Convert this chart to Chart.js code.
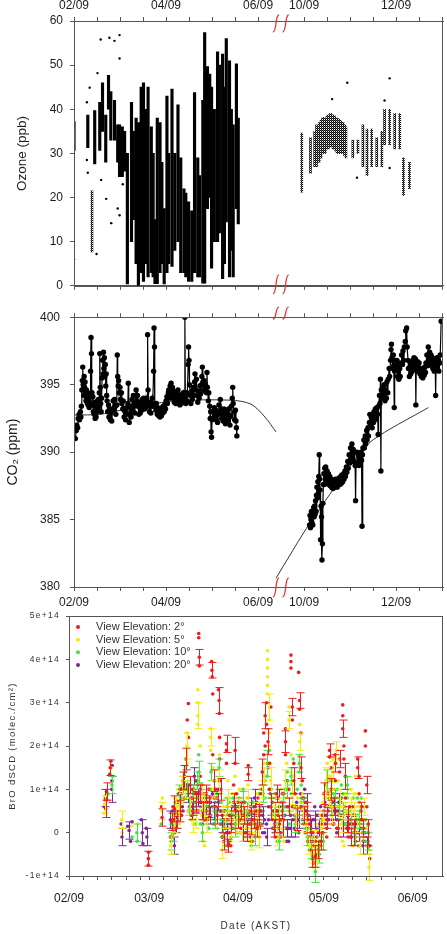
<!DOCTYPE html>
<html>
<head>
<meta charset="utf-8">
<script src="https://cdn.jsdelivr.net/npm/chart.js@4.4.1/dist/chart.umd.min.js"></script>
<style>
  body { margin: 0; background: #fff; width: 447px; height: 934px; position: relative; overflow: hidden; }
  canvas { position: absolute; left: 0; }
</style>
</head>
<body>
<canvas id="ozone" width="447" height="300" style="top:0"></canvas>
<canvas id="co2" width="447" height="312" style="top:300px"></canvas>
<canvas id="bro" width="447" height="329" style="top:605px"></canvas>
<script>
// dates in decimal months of 2009 (2.0 = 1 Feb, 10.0 = 1 Oct); Jul-Sep is cut out of the axis
const dateTicks = [2, 4, 6, 10, 12];
const dateTickLabels = ['02/09', '04/09', '06/09', '10/09', '12/09'];

// ozone (ppb): vertical runs of 1-min data [month, low, high]
const ozoneSpring = [
  [2.00, 30.7, 37.2], [2.30, 31.3, 38.7], [2.45, 27.6, 39.7], [2.56, 30.7, 41.6], [2.62, 35, 46],
  [2.69, 28, 38.7], [2.75, 40, 47.7], [2.80, 33, 44], [2.88, 33, 42], [2.95, 28, 36.5],
  [2.99, 24.7, 36.5], [3.05, 24.7, 36], [3.10, 26, 35], [3.16, 0.4, 30], [3.25, 10, 41.6],
  [3.29, 15, 35], [3.35, 5, 38], [3.40, 0, 37], [3.46, 3, 45], [3.51, 1, 46],
  [3.57, 5, 40], [3.61, 2, 45], [3.68, 3, 36], [3.72, 2, 30], [3.76, 0.5, 15],
  [3.81, 0.5, 38], [3.87, 3, 37], [3.91, 5, 28], [3.96, 0.4, 17.5], [4.02, 3, 43],
  [4.06, 5, 30], [4.13, 4.4, 44.6], [4.19, 8, 30], [4.26, 10, 41], [4.32, 3, 29],
  [4.39, 3, 22], [4.43, 2, 21], [4.49, 1, 19], [4.56, 1, 17], [4.62, 3, 43.8],
  [4.69, 2, 29], [4.73, 2, 25], [4.80, 0.6, 42], [4.84, 0.6, 57.4], [4.90, 17.5, 49.7],
  [4.95, 20, 48], [4.99, 4, 45], [5.05, 10, 40], [5.12, 10, 53], [5.16, 12, 50],
  [5.23, 1.6, 52.5], [5.27, 5, 45], [5.31, 14.5, 56], [5.38, 2, 51], [5.42, 8, 40],
  [5.46, 2, 36.5], [5.53, 17.5, 50.3], [5.57, 14, 38]
];
const ozoneSparse = [
  [2.39, 7.7, 21.5],
  [9.95, 21.2, 34.6], [10.14, 25.5, 33.5], [10.23, 27, 35], [10.27, 27, 36.5], [10.30, 28, 36], [10.33, 28, 37],
  [10.37, 29, 37.5], [10.40, 30, 38], [10.43, 30, 38.2], [10.46, 30, 38], [10.50, 31, 38.5], [10.53, 31, 38.7],
  [10.56, 31.5, 39], [10.59, 31.5, 39], [10.63, 31, 38.7], [10.66, 31, 38.5], [10.69, 30.5, 38.2], [10.72, 30, 38],
  [10.75, 30, 37.8], [10.78, 30, 37.5], [10.81, 30, 37.2], [10.85, 30, 37], [10.88, 29.5, 36.5], [10.91, 29, 36],
  [11.06, 29, 33], [11.17, 30, 33], [11.28, 27, 36.5], [11.37, 25, 35.5], [11.47, 27, 35.5], [11.58, 27, 33.5],
  [11.69, 27, 35], [11.75, 32, 40], [11.86, 32, 40], [11.97, 31, 39], [12.08, 31, 39],
  [12.16, 20.5, 29], [12.29, 22, 28]
];
const ozoneStray = [
  [2.00, 6.0], [2.28, 41.6], [2.28, 28.5], [2.30, 25.6], [2.34, 44.9], [2.49, 7.2], [2.51, 48.2],
  [2.58, 55.8], [2.59, 24.0], [2.70, 19.7], [2.77, 56.2], [2.81, 14.2], [2.88, 55.5], [2.95, 17.5],
  [2.99, 56.8], [2.99, 51.5], [2.99, 16.0], [3.06, 23.0],
  [10.61, 42.3], [10.94, 46.0], [11.15, 24.5], [11.75, 42.0], [11.86, 47.0], [11.86, 26.7]
];

// CO2 (ppm) [month, value]
const co2Spring = [
  [2.03, 391.0], [2.05, 391.6], [2.06, 392.0], [2.08, 391.8], [2.09, 392.5], [2.11, 392.8], [2.12, 392.4],
  [2.14, 393.0], [2.15, 392.6], [2.16, 393.4], [2.17, 394.6], [2.18, 395.3], [2.19, 396.3], [2.20, 395.0], [2.21, 394.2],
  [2.22, 395.6], [2.23, 394.8], [2.24, 395.2], [2.25, 394.4], [2.26, 393.8], [2.27, 394.6], [2.28, 394.0], [2.29, 393.6],
  [2.30, 394.4], [2.31, 393.5], [2.32, 394.1], [2.33, 393.3], [2.34, 394.2], [2.35, 393.6], [2.36, 396.0], [2.37, 398.5],
  [2.38, 397.3], [2.39, 394.4], [2.40, 393.5], [2.41, 394.1], [2.42, 393.0], [2.43, 393.7], [2.44, 392.8], [2.45, 393.4],
  [2.46, 392.5], [2.47, 393.2], [2.48, 392.6], [2.49, 393.5], [2.50, 393.0], [2.51, 393.8], [2.52, 393.2], [2.53, 393.9],
  [2.54, 393.4], [2.55, 394.4], [2.56, 397.3], [2.57, 394.8], [2.58, 393.6], [2.59, 393.0], [2.60, 394.0], [2.61, 395.5],
  [2.62, 396.8], [2.63, 395.8], [2.64, 397.4], [2.65, 396.2], [2.66, 397.0], [2.67, 395.6], [2.68, 396.5], [2.69, 394.9],
  [2.70, 395.8], [2.71, 394.2], [2.72, 393.8], [2.73, 393.0], [2.75, 393.5], [2.76, 392.6], [2.78, 393.2], [2.79, 392.4],
  [2.81, 393.0], [2.82, 392.3], [2.84, 393.1], [2.85, 393.8], [2.87, 393.3], [2.88, 393.9], [2.90, 393.4], [2.91, 392.8],
  [2.93, 393.5], [2.94, 397.2], [2.95, 395.6], [2.96, 394.9], [2.97, 395.3], [2.98, 394.4], [3.00, 394.8], [3.01, 393.9],
  [3.03, 394.4], [3.04, 393.6], [3.06, 393.2], [3.07, 393.8], [3.09, 392.6], [3.11, 393.0], [3.12, 392.4], [3.14, 393.3],
  [3.15, 392.8], [3.17, 393.6], [3.18, 395.1], [3.19, 393.4], [3.20, 392.2], [3.21, 392.8], [3.23, 393.4], [3.24, 392.6],
  [3.26, 393.9], [3.27, 393.2], [3.29, 394.2], [3.30, 393.4], [3.32, 392.9], [3.33, 393.6], [3.35, 394.6], [3.36, 393.8],
  [3.38, 394.2], [3.39, 393.4], [3.41, 392.8], [3.42, 393.4], [3.44, 392.9], [3.45, 393.7], [3.47, 393.1], [3.48, 393.9],
  [3.50, 393.4], [3.51, 394.0], [3.53, 393.2], [3.54, 393.8], [3.56, 393.3], [3.57, 394.0], [3.59, 393.6], [3.60, 398.7],
  [3.61, 394.6], [3.62, 393.5], [3.64, 393.0], [3.65, 393.7], [3.67, 392.9], [3.68, 393.6], [3.70, 394.0], [3.71, 393.4],
  [3.73, 396.0], [3.74, 399.2], [3.75, 397.8], [3.76, 393.6], [3.78, 393.1], [3.79, 393.6], [3.81, 392.8], [3.82, 393.3],
  [3.84, 392.7], [3.85, 393.1], [3.87, 392.6], [3.88, 393.0], [3.90, 392.7], [3.91, 393.3], [3.93, 392.9], [3.94, 393.4],
  [3.96, 393.0], [3.97, 393.5], [3.99, 393.2], [4.00, 393.8], [4.02, 394.1], [4.03, 393.6], [4.05, 394.4], [4.06, 394.6],
  [4.08, 394.0], [4.09, 394.9], [4.11, 395.1], [4.12, 394.3], [4.14, 394.8], [4.15, 394.0], [4.17, 394.5], [4.18, 393.7],
  [4.20, 394.3], [4.21, 393.6], [4.23, 394.4], [4.24, 393.9], [4.26, 394.6], [4.27, 393.8], [4.29, 394.2], [4.30, 393.5],
  [4.32, 394.0], [4.33, 393.6], [4.35, 394.3], [4.36, 393.8], [4.38, 394.4], [4.40, 394.0], [4.41, 400.0], [4.42, 394.2],
  [4.43, 393.6], [4.45, 394.4], [4.46, 393.8], [4.48, 396.5], [4.49, 397.8], [4.50, 396.8], [4.51, 395.0], [4.53, 394.2],
  [4.54, 393.6], [4.56, 394.5], [4.57, 393.9], [4.59, 394.8], [4.60, 394.2], [4.62, 395.2], [4.63, 395.8], [4.65, 394.6],
  [4.66, 395.4], [4.68, 394.2], [4.69, 393.7], [4.71, 394.5], [4.72, 394.0], [4.74, 394.9], [4.75, 394.3], [4.77, 395.0],
  [4.78, 395.6], [4.79, 396.3], [4.80, 395.2], [4.82, 394.6], [4.83, 395.3], [4.85, 394.5], [4.86, 395.0], [4.88, 394.4],
  [4.89, 395.9], [4.90, 394.8], [4.92, 393.8], [4.93, 394.4], [4.95, 393.4], [4.96, 392.5], [4.97, 393.0], [4.98, 391.5],
  [4.99, 391.1], [5.00, 392.4], [5.02, 393.0], [5.03, 392.5], [5.05, 393.3], [5.06, 392.7], [5.08, 393.1], [5.09, 392.4],
  [5.11, 393.0], [5.12, 392.2], [5.14, 392.8], [5.15, 393.5], [5.17, 392.9], [5.18, 393.9], [5.20, 393.2], [5.21, 392.5],
  [5.23, 393.0], [5.24, 392.3], [5.26, 393.2], [5.27, 392.6], [5.29, 392.1], [5.30, 392.8], [5.32, 392.2], [5.33, 392.9],
  [5.35, 392.3], [5.36, 393.2], [5.38, 392.6], [5.39, 392.0], [5.41, 392.7], [5.42, 393.4], [5.44, 394.0], [5.45, 394.8],
  [5.46, 393.6], [5.48, 393.0], [5.49, 392.4], [5.51, 393.1], [5.52, 392.3], [5.53, 391.8], [5.54, 391.2]
];
const co2Autumn = [
  [10.12, 384.6], [10.13, 385.3], [10.14, 384.4], [10.15, 385.0], [10.16, 385.6], [10.17, 384.8], [10.18, 385.4],
  [10.19, 384.6], [10.20, 385.2], [10.21, 385.9], [10.22, 385.2], [10.23, 386.0], [10.24, 385.4], [10.25, 386.4],
  [10.26, 385.6], [10.27, 386.8], [10.28, 387.4], [10.29, 386.6], [10.30, 387.8], [10.31, 386.9], [10.32, 388.2],
  [10.33, 389.8], [10.34, 388.0], [10.35, 387.2], [10.36, 383.5], [10.37, 386.0], [10.38, 385.2], [10.39, 382.0],
  [10.40, 383.2], [10.41, 386.2], [10.42, 387.6], [10.43, 388.4], [10.44, 387.6], [10.45, 388.8], [10.46, 388.0],
  [10.47, 388.9], [10.48, 388.2], [10.50, 388.6], [10.51, 387.8], [10.53, 388.4], [10.54, 387.6], [10.56, 388.2],
  [10.57, 387.5], [10.59, 388.0], [10.60, 387.4], [10.62, 387.9], [10.63, 387.3], [10.65, 387.8], [10.66, 387.4],
  [10.68, 388.0], [10.69, 387.5], [10.71, 387.9], [10.72, 387.4], [10.74, 388.0], [10.75, 387.6], [10.77, 388.1],
  [10.78, 387.6], [10.80, 388.2], [10.81, 387.7], [10.83, 388.3], [10.84, 387.8], [10.86, 388.4], [10.87, 388.0],
  [10.89, 388.6], [10.90, 388.2], [10.92, 388.9], [10.93, 388.5], [10.95, 389.3], [10.96, 388.8], [10.98, 389.8],
  [10.99, 389.2], [11.01, 390.3], [11.02, 389.5], [11.04, 390.6], [11.05, 389.8], [11.07, 390.2], [11.08, 389.3],
  [11.10, 390.0], [11.11, 389.0], [11.12, 386.4], [11.13, 389.2], [11.15, 390.0], [11.16, 389.2], [11.18, 389.8],
  [11.19, 389.0], [11.21, 389.6], [11.22, 389.2], [11.24, 390.0], [11.25, 389.4], [11.26, 384.5], [11.27, 389.8],
  [11.28, 390.3], [11.30, 390.9], [11.31, 390.3], [11.33, 391.2], [11.34, 390.6], [11.36, 391.6], [11.37, 390.9],
  [11.39, 391.8], [11.40, 391.2], [11.42, 392.2], [11.43, 392.8], [11.45, 392.0], [11.46, 392.6], [11.48, 391.8],
  [11.49, 392.7], [11.51, 392.2], [11.52, 393.0], [11.54, 392.4], [11.55, 393.2], [11.57, 392.5], [11.58, 393.3],
  [11.60, 392.8], [11.61, 391.3], [11.62, 393.4], [11.64, 394.2], [11.65, 393.6], [11.66, 395.4], [11.67, 388.6],
  [11.68, 394.6], [11.70, 394.0], [11.71, 394.8], [11.73, 394.2], [11.74, 395.0], [11.76, 393.8], [11.77, 394.6],
  [11.79, 394.0], [11.80, 395.2], [11.82, 394.4], [11.83, 395.4], [11.85, 396.2], [11.86, 395.6], [11.88, 396.8],
  [11.89, 397.6], [11.90, 398.0], [11.91, 397.0], [11.93, 396.2], [11.94, 397.2], [11.95, 396.4], [11.96, 393.3],
  [11.97, 396.0], [11.99, 396.8], [12.00, 396.2], [12.02, 396.8], [12.03, 395.6], [12.05, 396.5], [12.06, 395.4],
  [12.08, 396.2], [12.09, 395.6], [12.11, 396.6], [12.12, 397.2], [12.14, 396.5], [12.15, 397.5], [12.17, 396.8],
  [12.18, 397.8], [12.20, 398.2], [12.21, 399.0], [12.23, 399.2], [12.24, 397.8], [12.26, 396.8], [12.27, 396.2],
  [12.29, 395.6], [12.30, 396.3], [12.32, 395.8], [12.33, 396.6], [12.35, 396.0], [12.36, 396.8], [12.38, 396.2],
  [12.39, 397.0], [12.41, 396.4], [12.42, 396.9], [12.43, 393.5], [12.44, 396.6], [12.46, 396.0], [12.47, 396.7],
  [12.49, 396.1], [12.50, 396.6], [12.52, 395.8], [12.53, 396.2], [12.55, 395.6], [12.56, 396.0], [12.58, 395.5],
  [12.59, 396.1], [12.61, 395.7], [12.62, 396.3], [12.64, 395.9], [12.65, 396.6], [12.67, 397.2], [12.68, 396.4],
  [12.70, 397.8], [12.71, 396.9], [12.73, 397.4], [12.74, 396.6], [12.76, 397.2], [12.77, 396.4], [12.79, 397.0],
  [12.80, 396.2], [12.82, 396.8], [12.83, 396.0], [12.85, 396.6], [12.86, 394.2], [12.87, 396.4], [12.89, 397.0],
  [12.90, 396.2], [12.92, 396.8], [12.93, 396.0], [12.95, 396.6], [12.96, 397.2], [12.98, 399.7]
];
const co2TrendSpring = [[2.02, 392.75], [2.56, 392.8], [3.0, 393.1], [3.6, 393.5], [4.2, 393.8], [5.4, 393.85], [5.85, 393.55], [6.15, 392.6], [6.39, 391.5]];
const co2TrendAutumn = [[9.39, 380.65], [10.12, 384.7], [11.41, 390.65], [12.70, 393.3]];

// BrO dSCD in 1e14 molec/cm2: [days after 1 Feb 2009, value, error bar half-height]
const broMonthStarts = [0, 28, 59, 89, 120];
const broMonthLabels = ['02/09', '03/09', '04/09', '05/09', '06/09'];
const bro2 = [
  [12.8,0.55,0.2],[12.9,0.75],[13.1,0.95,0.2],[14.2,1.35],[14.4,1.5,0.18],[14.6,1.65],
  [27.7,-0.6,0.17],[27.8,-0.45],[27.7,-0.75],[32.3,0.6],[32.5,0.35,0.2],
  [35.8,-0.1],[35.8,0.25,0.2],[36.3,0.3],[36.3,0.6],[36.8,0.55,0.3],[36.8,0.0],[37.3,0.1],[37.3,0.4],[37.8,0.7],[37.8,0.3,0.2],
  [38.3,0.4],[38.3,0.9],[38.8,0.5,0.25],[38.8,1.0],[39.3,0.9],[39.3,0.4],[39.8,0.5],[39.8,1.2,0.2],
  [40.3,1.3],[40.3,0.8],[40.8,1.7,0.25],[40.8,1.0],[41.3,2.6],[41.3,1.1],[41.7,2.98],[41.7,2.2],
  [42.2,1.1,0.2],[42.2,0.6],[42.7,0.8],[42.7,0.4],[43.2,0.6,0.2],[43.2,1.0],[43.7,0.9],[43.7,0.5],[44.2,1.2],[44.2,0.7,0.25],[44.7,0.9],[44.7,0.5],
  [45.3,4.6],[45.3,4.5],[45.5,4.05,0.18],[45.5,3.85],[45.8,1.3],[45.8,0.9,0.2],[46.3,0.7],[46.3,1.1],[46.8,0.5,0.2],[46.8,0.9],
  [47.3,0.3],[47.3,0.7],[47.8,0.9,0.2],[47.8,0.5],[48.3,0.3],[48.3,0.7],[48.8,0.6,0.25],[48.8,1.0],[49.3,0.8],[49.3,0.4],
  [49.8,3.95],[49.9,3.75,0.18],[50.0,3.6],[50.2,3.2],[50.2,1.8],[50.7,1.2,0.25],[50.7,0.8],[51.2,0.6],[51.2,1.0],[51.7,0.4,0.2],[51.7,0.8],
  [52.2,3.3],[52.4,3.05,0.3],[52.5,2.75],[52.6,2.2],[52.6,1.7],[52.6,1.2],[53.0,1.0,0.25],[53.0,0.5],[53.5,0.4],[53.5,-0.1],
  [54.0,-0.2,0.2],[54.0,0.3],[54.5,0.5],[54.5,0.1],[55.0,1.9],[55.0,2.05,0.2],[55.0,1.6],[55.5,0.3],[55.5,-0.3,0.15],
  [56.0,0.4],[56.0,0.0],[56.5,-0.3],[56.5,0.2,0.2],[57.0,0.3],[57.0,0.6],[57.5,1.1],[57.5,0.7,0.2],[58.0,1.9,0.3],[58.0,1.6],
  [58.5,0.6],[58.5,0.9],[59.0,0.3,0.2],[59.0,0.7],[59.5,0.3],[59.5,0.6],[60.0,0.5,0.2],[60.0,0.1],[60.5,0.1],[60.5,0.4],
  [61.0,0.4,0.2],[61.0,0.7],[61.5,0.4],[61.5,0.0],[62.0,0.0,0.2],[62.0,0.3],[62.6,1.55],[62.6,1.35,0.15],
  [63.0,0.2],[63.0,0.5],[63.5,0.2,0.25],[63.5,-0.1],[64.0,-0.2],[64.0,0.3],[64.5,0.3,0.2],[64.5,0.6],[65.0,0.6],[65.0,0.2],
  [65.5,0.1,0.2],[65.5,0.5],[66.0,0.4],[66.0,0.8],[66.5,0.4,0.25],[66.5,0.1],[67.0,0.9],[67.0,0.5],[67.5,1.4,0.3],[67.5,1.0],
  [68.0,1.8],[68.0,2.3],[68.5,2.7,0.3],[68.5,2.0],[69.0,3.0],[69.0,2.5],[69.5,2.1,0.3],[69.5,1.5],[70.0,1.0],[70.0,1.6],
  [70.5,2.9],[70.5,0.6,0.3],[71.0,0.3],[71.0,0.7],[71.5,0.1,0.2],[71.5,0.5],[72.0,-0.1],[72.0,0.3],[72.5,0.9,0.2],[72.5,0.5],
  [73.0,0.4],[73.0,0.1],[73.5,0.2,0.2],[73.5,0.6],[74.0,-0.1],[74.0,0.3],[74.5,0.9],[74.5,0.5,0.2],[75.0,0.9],[75.0,0.3],
  [75.6,2.4],[75.6,2.1,0.25],[75.6,1.8],[76.2,1.2],[76.2,0.6],[76.7,0.6,0.2],[76.7,1.0],
  [77.5,4.1],[77.5,3.95],[77.5,3.8],[78.0,2.9,0.2],[78.0,2.6],[78.5,1.6],[78.5,1.2,0.3],[79.0,0.9],[79.0,0.3],[79.5,0.3,0.25],[79.5,0.6],
  [80.2,3.7],[80.5,3.05,0.18],[80.5,2.85],[81.0,2.3],[81.0,1.5,0.25],[81.5,0.8],[81.5,1.2],[82.0,0.4,0.2],[82.0,0.8],
  [82.5,0.0],[82.5,0.5],[83.0,0.5,0.2],[83.0,0.1],[83.5,-0.2],[83.5,0.3],[84.0,0.2,0.2],[84.0,-0.1],[84.5,-0.4],[84.5,0.0],
  [85.0,-0.6,0.2],[85.0,-0.2],[85.5,-0.3],[85.5,-0.7],[86.0,-0.55,0.25],[86.0,-0.2],[86.5,-0.1],[86.5,-0.5],[87.0,-0.4,0.2],[87.0,0.0],
  [87.5,0.2],[87.5,-0.3],[88.0,-0.2,0.2],[88.0,0.2],[88.5,0.4],[88.5,0.0],[89.0,0.9,0.25],[89.0,0.5],[89.5,0.6],[89.5,0.2],
  [90.0,0.3,0.2],[90.0,-0.1],[90.5,0.9],[90.5,0.5],[91.0,1.9,0.15],[91.0,1.75],[91.5,1.5],[91.5,1.0,0.25],[92.0,0.3],[92.0,0.7],
  [92.5,0.6,0.2],[92.5,0.2],[93.0,1.8],[93.0,1.6,0.2],[93.0,1.2],[93.5,0.5],[93.5,0.1],[94.0,0.1,0.2],[94.0,0.5],[94.5,1.7,0.2],[94.5,1.4],
  [95.0,0.8],[95.0,0.4],[95.6,2.95],[95.6,2.7],[95.6,2.4,0.2],[96.0,2.0],[96.0,1.7],[96.5,1.3,0.3],[96.5,0.8],
  [97.0,0.4],[97.0,0.1],[97.5,0.3,0.3],[97.5,-0.1],[98.0,0.6],[98.0,0.2],[98.5,-0.1,0.2],[98.5,0.3],[99.0,0.2],[99.0,0.6],
  [99.5,0.0,0.3],[99.5,0.4],[100.0,0.2],[100.0,-0.2],[100.8,1.7],[100.8,1.5,0.25],[101.3,1.3],[101.3,0.9],[101.8,0.5,0.2],[101.8,0.1],
  [102.3,0.3],[102.3,0.6],[102.8,0.1,0.2],[102.8,-0.2],[103.5,2.35],[103.5,2.0],[104.0,1.1,0.2],[104.0,0.6],[104.5,0.2],[104.5,0.0,0.3],[105.0,-0.6],[105.0,-0.3]
];
const bro5 = [
  [12.2,0.45],[12.4,0.65,0.2],[12.6,0.85],[14.8,1.5],[18.4,0.3,0.2],[18.6,0.0],[21.8,0.15],[24.0,0.2],[32.4,0.5,0.2],[32.6,0.8],
  [35.5,-0.3,0.2],[35.5,0.1],[36.0,-0.1],[36.0,0.4],[36.5,0.2,0.2],[36.5,0.6],[37.0,0.3],[37.0,0.8],[37.5,0.6,0.2],[37.5,0.2],
  [38.0,0.6],[38.0,1.0],[38.5,0.2],[38.5,0.5,0.2],[39.0,0.9],[39.0,0.4],[39.5,1.1,0.2],[39.5,0.7],[40.0,0.7],[40.0,1.3],[40.5,1.0,0.2],[40.5,1.5],
  [41.2,2.3],[41.2,2.0,0.3],[41.2,1.6],[41.8,0.9],[41.8,0.5],[42.3,0.6,0.2],[42.3,1.0],[42.8,0.3],[42.8,0.7],[43.3,0.6],[43.3,0.2,0.2],
  [43.8,1.0],[43.8,0.5],[44.3,0.3,0.2],[44.3,0.8],[45.0,3.3],[45.0,3.0],[45.0,2.7,0.3],[45.0,2.5],[45.8,2.0],[45.8,0.8],
  [46.3,0.8,0.3],[46.3,0.4],[46.8,-0.2],[46.8,0.3],[47.3,0.6,0.3],[47.3,-0.3],[47.8,0.4],[47.8,0.9],[48.3,0.2,0.2],[48.3,0.6],[48.8,0.7],[48.8,0.3],
  [49.5,2.4],[49.5,2.2,0.2],[49.5,1.9],[50.3,1.5],[50.3,1.0],[50.8,1.0,0.2],[50.8,0.5],[51.3,0.4],[51.3,0.8],[51.8,0.4,0.2],[51.8,0.1],
  [52.5,1.8],[52.5,1.2,0.25],[53.0,0.5],[53.0,0.9],[53.4,-0.4,0.2],[53.4,0.0],[54.0,0.3],[54.0,0.6],[54.5,0.3,0.2],[54.5,-0.1],
  [55.0,0.8],[55.0,0.4],[55.5,0.8,0.2],[55.5,1.2],[56.0,0.1],[56.0,0.5],[56.5,0.1,0.2],[56.5,-0.2],[57.0,0.5],[57.0,0.9],
  [57.5,0.5,0.2],[57.5,0.2],[58.0,1.3],[58.0,0.9],[58.5,0.2,0.2],[58.5,0.6],[59.0,0.6],[59.0,0.3],[59.5,0.6,0.2],[59.5,1.0],
  [60.0,0.0],[60.0,0.4],[60.5,0.0,0.2],[60.5,0.3],[61.0,0.3],[61.0,0.7],[61.5,0.3,0.2],[61.5,-0.1],[62.0,0.8],[62.0,0.4],
  [62.5,0.8,0.2],[62.5,1.1],[63.0,-0.2],[63.0,0.2],[63.5,-0.2,0.2],[63.5,0.1],[64.0,0.2],[64.0,0.5],[64.5,0.2,0.2],[64.5,0.6],
  [65.0,0.5],[65.0,0.1],[65.5,0.5,0.2],[65.5,0.9],[66.0,-0.1],[66.0,0.3],[66.5,-0.1,0.25],[66.5,0.2],[67.0,1.0],[67.0,0.6],
  [67.5,1.0,0.2],[67.5,1.4],[68.2,1.6],[68.2,1.3,0.2],
  [69.3,4.2],[69.3,4.0],[69.3,3.8],[69.3,3.6],[69.3,3.4],[69.3,3.2],[69.9,2.9,0.3],[69.9,2.6],[69.9,2.3],[69.9,2.0],
  [70.4,1.6],[70.4,1.2,0.3],[70.4,0.8],[71.0,0.4],[71.0,0.8],[71.5,0.4,0.2],[71.5,0.0],[72.0,0.4],[72.0,0.8],[72.5,-0.1,0.2],[72.5,0.3],
  [73.0,-0.1],[73.0,0.3],[73.5,0.6,0.2],[73.5,0.2],[74.0,0.6],[74.0,1.0],[74.5,0.1,0.2],[74.5,0.5],[75.0,0.1],[75.0,-0.2],
  [75.5,1.2,0.25],[75.5,0.8],[76.0,1.2],[76.0,1.6],[76.8,2.9],[76.8,2.6,0.2],[77.6,1.8],[77.6,1.4],[78.0,0.9,0.25],[78.0,0.5],
  [78.5,0.9],[78.5,1.3],[79.2,0.4,0.2],[79.2,0.0],[79.8,0.4],[79.8,0.8],[80.6,2.5],[80.6,2.1,0.2],[80.6,1.8],[81.2,1.2],[81.2,0.8],
  [81.7,0.5,0.2],[81.7,0.9],[82.2,0.5],[82.2,0.1],[82.7,0.2,0.2],[82.7,0.6],[83.2,0.2],[83.2,-0.2],[83.7,-0.3,0.2],[83.7,0.1],
  [84.2,-0.3],[84.2,0.1],[84.7,-0.5,0.2],[84.7,-0.1],[85.2,-0.5],[85.2,-0.8],[85.7,-0.2,0.25],[85.7,-0.6],[86.2,-0.2],[86.2,0.2],
  [86.7,-0.6,0.2],[86.7,-0.3],[87.2,0.1],[87.2,-0.3],[87.7,0.1,0.2],[87.7,0.4],[88.2,-0.3],[88.2,0.1],[88.7,0.3,0.2],[88.7,0.7],
  [89.2,0.3],[89.2,0.8],[89.7,1.2,0.3],[89.7,0.8],[90.2,1.2],[90.2,1.6],[90.7,0.8,0.2],[90.7,1.3],[91.2,1.3],[91.2,0.9],
  [91.7,0.4,0.2],[91.7,0.8],[92.2,1.7],[92.2,1.4,0.25],[92.8,1.0],[92.8,0.6],[93.3,1.9,0.2],[93.3,1.6],[94.0,1.2],[94.0,0.8],
  [94.5,0.8,0.2],[94.5,0.4],[95.0,0.2],[95.0,0.6],[95.5,0.2,0.2],[95.5,-0.2],[96.0,-0.3],[96.0,0.1],[96.5,0.5,0.2],[96.5,0.9],
  [97.0,0.9],[97.0,0.5],[97.5,0.2,0.2],[97.5,0.5],[98.0,0.6],[98.0,0.2],[98.5,0.6,0.2],[98.5,1.0],[99.0,-0.3],[99.0,0.1],
  [99.5,0.5,0.2],[99.5,0.9],[100.0,0.9],[100.0,1.3],[100.5,0.2,0.2],[100.5,0.6],[101.0,0.6],[101.0,0.2],[101.5,-0.3,0.2],[101.5,0.1],
  [102.0,0.2],[102.0,0.6],[103.0,0.6,0.2],[103.0,0.3],[104.0,-0.3],[104.0,0.1],[104.8,-0.8,0.3],[104.8,-0.4]
];
const bro10 = [
  [13.6,0.9],[15.0,1.1,0.2],[15.2,1.3],[22.0,-0.1],[23.7,0.0,0.2],[23.8,-0.2],[32.2,0.2],
  [35.7,0.2],[35.7,-0.2,0.2],[36.4,0.0,0.2],[36.4,0.4],[37.1,0.3],[37.1,0.7],[37.8,0.3,0.2],[37.8,0.6],[38.5,0.6],[38.5,0.9,0.2],
  [39.2,0.4],[39.2,0.8],[39.9,1.1,0.2],[39.9,0.7],[40.6,1.0],[40.6,1.4],[41.3,1.0,0.2],[41.3,0.8],[42.0,1.1],[42.0,0.6,0.2],
  [42.7,0.3],[42.7,0.7],[43.4,0.9,0.2],[43.4,0.5],[44.1,0.2],[44.1,0.6],[44.8,1.2,0.2],[44.8,0.8],[45.3,1.8],[45.3,1.4,0.25],[45.3,1.1],
  [45.9,0.2],[45.9,0.6],[46.6,0.0,0.2],[46.6,0.4],[47.3,0.4],[47.3,0.8],[48.0,0.8,0.2],[48.0,0.3],[48.7,0.5],[48.7,0.1],
  [49.6,1.0],[49.6,1.4,0.2],[50.3,0.6],[50.3,0.2],[51.0,0.3,0.2],[51.0,0.7],[51.7,0.9],[51.7,0.5],[52.4,1.5,0.2],[52.4,1.2],
  [53.1,0.7],[53.1,0.3],[53.8,0.1,0.2],[53.8,0.5],[54.5,0.1],[54.5,-0.3],[55.2,0.6,0.2],[55.2,0.2],[55.9,0.3],[55.9,0.7],
  [56.6,0.3,0.2],[56.6,-0.1],[57.3,0.8],[57.3,0.4],[58.0,0.1,0.2],[58.0,0.5],[58.7,0.4],[58.7,0.0],[59.4,0.4,0.2],[59.4,0.8],
  [60.1,0.7],[60.1,0.3],[60.8,0.7,0.25],[60.8,1.0],[61.5,0.2],[61.5,0.5],[62.2,0.5,0.2],[62.2,0.1],[62.9,0.0],[62.9,0.4],
  [63.6,0.0,0.2],[63.6,-0.3],[64.3,0.3],[64.3,0.7],[65.0,-0.1,0.2],[65.0,0.3],[65.7,0.5],[65.7,0.1],[66.4,0.5,0.2],[66.4,0.9],
  [67.1,0.2],[67.1,0.6],[67.8,0.9,0.2],[67.8,0.5],[68.5,1.2],[68.5,0.8],[69.2,1.3],[69.2,1.6,0.3],[69.9,1.0],[69.9,1.9],
  [70.6,0.6,0.2],[70.6,1.0],[71.3,0.1],[71.3,0.5],[72.0,0.5,0.2],[72.0,0.9],[72.7,-0.2],[72.7,0.2],[73.4,-0.2,0.2],[73.4,0.3],
  [74.1,0.3],[74.1,0.7],[74.8,0.7,0.2],[74.8,0.4],[75.5,1.0],[75.5,0.6],[76.2,1.0,0.2],[76.2,1.4],[76.9,0.5],[76.9,0.2],
  [77.6,1.3,0.2],[77.6,0.9],[78.3,1.3],[78.3,1.7],[79.0,0.2,0.2],[79.0,0.6],[79.7,0.6],[79.7,1.0],[80.4,1.4],[80.4,1.6,0.2],
  [81.1,1.1],[81.1,0.7],[81.8,0.6,0.2],[81.8,0.2],[82.5,0.2],[82.5,0.6],[83.2,-0.1,0.2],[83.2,0.3],[83.9,-0.1],[83.9,-0.4],
  [84.6,-0.4,0.2],[84.6,0.0],[85.3,-0.1],[85.3,-0.5],[86.0,-0.9,0.25],[86.0,-0.6],[86.7,-0.3],[86.7,0.1],[87.4,-0.5,0.2],[87.4,-0.2],
  [88.1,0.0],[88.1,0.4],[88.8,-0.2,0.2],[88.8,0.2],[89.5,0.8],[89.5,1.1],[90.2,1.2,0.25],[90.2,1.0],[90.9,1.2],[90.9,0.8],
  [91.6,0.6,0.2],[91.6,1.0],[92.3,1.2],[92.3,0.9],[93.0,0.8,0.2],[93.0,1.2],[93.7,1.0],[93.7,0.6],[94.4,0.6,0.2],[94.4,0.3],
  [95.1,1.1],[95.1,0.8],[95.8,0.5,0.2],[95.8,0.9],[96.5,0.2],[96.5,0.6],[97.2,1.1,0.2],[97.2,0.8],[97.9,0.5],[97.9,0.2],
  [98.6,0.2,0.2],[98.6,-0.1],[99.3,0.4],[99.3,0.8],[100.0,-0.1,0.2],[100.0,0.3],[100.7,0.8],[100.7,0.4],[101.4,0.3,0.2],[101.4,0.7],
  [102.1,0.8],[102.1,0.5],[102.8,0.0,0.2],[102.8,0.3],[103.5,0.3],[103.5,-0.2],[104.5,-0.2,0.2],[104.5,0.2]
];
const bro20 = [
  [12.4,0.6],[12.7,0.8,0.2],[14.9,1.0,0.3],[15.0,1.2],[15.1,1.55],[18.2,0.2],[18.5,-0.1,0.2],[20.5,0.15],[21.0,0.05,0.2],[21.5,-0.2],
  [22.0,0.25],[25.3,0.3],[25.6,0.0,0.3],[25.8,-0.25],[27.0,0.1],[27.2,-0.1,0.2],
  [35.4,0.3,0.2],[35.4,-0.1],[36.1,0.1],[36.1,0.5],[36.8,-0.3,0.2],[36.8,0.2],[37.5,0.5],[37.5,0.2,0.2],[38.2,0.3],[38.2,0.7],
  [38.9,0.7,0.2],[38.9,0.4],[39.6,1.0],[39.6,0.6],[40.3,1.3,0.25],[40.3,1.0],[41.0,1.1],[41.0,0.8],[41.7,0.9,0.2],[41.7,0.5],
  [42.4,0.7],[42.4,1.0],[43.1,0.5,0.2],[43.1,0.8],[43.8,1.0],[43.8,1.3,0.2],[44.5,1.2],[44.5,0.9],[45.2,0.8,0.2],[45.2,0.5],
  [45.9,0.7],[45.9,1.0],[46.6,0.5,0.2],[46.6,0.2],[47.3,0.3],[47.3,0.6],[48.0,0.6,0.2],[48.0,0.9],[48.7,0.4],[48.7,0.1],
  [49.4,0.4,0.2],[49.4,0.7],[50.1,0.9],[50.1,0.6],[50.8,0.5,0.2],[50.8,0.2],[51.5,0.5],[51.5,0.8],[52.2,0.7,0.2],[52.2,1.0],
  [52.9,0.2],[52.9,0.5],[53.6,0.2,0.2],[53.6,-0.1],[54.3,0.2],[54.3,0.5],[55.0,0.0,0.2],[55.0,0.3],[55.7,-0.25],[55.7,0.1],
  [56.4,0.4,0.2],[56.4,0.1],[57.1,0.1],[57.1,0.4],[57.8,0.5,0.2],[57.8,0.2],[58.5,0.2],[58.5,0.5],[59.2,0.6,0.2],[59.2,0.3],
  [59.9,0.3],[59.9,0.0],[60.6,0.0,0.2],[60.6,0.3],[61.3,0.4],[61.3,0.7],[62.0,0.1,0.2],[62.0,0.4],[62.7,0.3],[62.7,0.0],
  [63.4,0.6,0.2],[63.4,0.3],[64.1,0.4],[64.1,0.7],[64.8,0.8,0.2],[64.8,0.5],[65.5,0.7],[65.5,0.4],[66.2,0.5,0.2],[66.2,0.2],
  [66.9,0.2],[66.9,0.5],[67.6,0.4,0.2],[67.6,0.0],[68.3,0.0],[68.3,0.3],[69.0,-0.1,0.2],[69.0,0.2],[69.7,0.3],[69.7,0.6],
  [70.4,0.6,0.2],[70.4,0.9],[71.1,0.4],[71.1,0.1],[71.8,0.2,0.2],[71.8,0.5],[72.5,0.5],[72.5,0.8],[73.2,0.8,0.2],[73.2,0.5],
  [73.9,0.3],[73.9,0.0],[74.6,0.1,0.2],[74.6,0.4],[75.3,0.4],[75.3,0.1],[76.0,0.1,0.2],[76.0,-0.2],[76.7,-0.2],[76.7,0.1],
  [77.4,0.1,0.2],[77.4,0.4],[78.1,0.3],[78.1,0.6],[78.8,0.1,0.2],[78.8,0.4],[79.5,0.4],[79.5,0.7],[80.2,0.3,0.2],[80.2,0.0],
  [80.9,0.6],[80.9,0.9],[81.6,0.6,0.2],[81.6,0.3],[82.3,0.7],[82.3,1.0],[83.0,0.7,0.2],[83.0,0.4],[83.7,0.1],[83.7,0.4],
  [84.4,0.1,0.2],[84.4,-0.2],[85.1,0.0],[85.1,0.3],[85.8,0.3,0.2],[85.8,0.6],[86.5,0.4],[86.5,0.1],[87.2,0.1,0.2],[87.2,0.4],
  [87.9,0.6],[87.9,0.3],[88.6,0.3,0.2],[88.6,0.0],[89.3,0.4],[89.3,0.7],[90.0,0.4,0.2],[90.0,0.1],[90.7,0.6],[90.7,0.3],
  [91.4,0.6,0.2],[91.4,0.9],[92.1,0.2],[92.1,0.5],[92.8,0.5,0.2],[92.8,0.8],[93.5,0.3],[93.5,0.0],[94.2,0.7,0.2],[94.2,0.4],
  [94.9,0.4],[94.9,0.7],[95.6,0.1,0.2],[95.6,0.4],[96.3,0.5],[96.3,0.2],[97.0,0.2,0.2],[97.0,0.5],[97.7,0.4],[97.7,0.1],
  [98.4,0.2,0.2],[98.4,-0.1],[99.1,0.4],[99.1,0.1],[99.8,0.1,0.2],[99.8,0.4],[100.5,0.3],[100.5,0.0],[101.2,0.0,0.2],[101.2,-0.3],
  [101.9,0.3],[101.9,0.6],[102.6,-0.3,0.2],[102.6,0.0],[103.3,0.0],[103.3,0.3],[104.0,-0.3,0.2],[104.0,0.1],[104.8,-0.3]
];

const broSeries = [
  { label: 'View Elevation: 2°', color: '#f01c1c', pts: bro2 },
  { label: 'View Elevation: 5°', color: '#f2ec0c', pts: bro5 },
  { label: 'View Elevation: 10°', color: '#3ee63e', pts: bro10 },
  { label: 'View Elevation: 20°', color: '#7a2a98', pts: bro20 }
];

const sans = '"Liberation Sans", Arial, sans-serif';
const axisColor = '#555';
const textColor = '#1c1c1c';

const toAxis = m => (m < 8 ? m - 2 : m - 5);
const brokenTicks = [0, 0.5, 1, 1.5, 2, 2.5, 3, 3.5, 4, 5, 5.5, 6, 6.5, 7, 7.5, 8];
const dateLabel = v => {
  const i = dateTicks.findIndex(d => toAxis(d) === v);
  return i < 0 ? '' : dateTickLabels[i];
};

function dateAxis(position, showLabels, height, pad) {
  return {
    type: 'linear', position, min: 0, max: 8.02, offset: false,
    afterBuildTicks: s => { s.ticks = brokenTicks.map(v => ({ value: v })); },
    afterFit: s => { s.height = height; },
    grid: { offset: false, drawOnChartArea: false, color: axisColor, tickLength: 4 },
    border: { color: axisColor },
    ticks: {
      display: showLabels, autoSkip: false, maxRotation: 0, padding: pad,
      color: textColor, font: { family: sans, size: 12 }, callback: v => dateLabel(v)
    }
  };
}

function valueAxis(min, max, step, title, titleSize, titlePad, labelPad) {
  return {
    min, max, position: 'left',
    afterFit: s => { s.width = 74; },
    grid: { drawOnChartArea: false, color: axisColor, tickLength: 4 },
    border: { color: axisColor },
    ticks: { stepSize: step, padding: labelPad, color: textColor, font: { family: sans, size: 12 } },
    title: { display: true, text: title, color: textColor, font: { family: sans, size: titleSize }, padding: { top: titlePad, bottom: 0 } }
  };
}

const framePlugin = {
  id: 'frame',
  afterDraw(chart) {
    const { ctx, chartArea: a } = chart;
    ctx.save();
    ctx.strokeStyle = axisColor;
    ctx.lineWidth = 1;
    ctx.strokeRect(Math.round(a.left) + 0.5, Math.round(a.top) + 0.5, Math.round(a.right - a.left) - 1, Math.round(a.bottom - a.top));
    ctx.restore();
  }
};

// red axis-break marks where Jul-Sep is cut out
const breakPlugin = {
  id: 'axisBreak',
  afterDraw(chart, args, opts) {
    const { ctx, chartArea: a } = chart;
    const x = chart.scales.x;
    ctx.save();
    ctx.strokeStyle = '#e8322c';
    ctx.lineWidth = 1.3;
    opts.spans.forEach(([dy0, dy1, edge]) => {
      const base = edge === 'top' ? a.top : a.bottom;
      [4.39, 4.6].forEach(v => {
        const px = x.getPixelForValue(v);
        const y0 = base + dy0, y1 = base + dy1;
        ctx.beginPath();
        ctx.moveTo(px + 3, y0);
        ctx.bezierCurveTo(px - 1, y0, px + 1, y1, px - 3, y1);
        ctx.stroke();
      });
    });
    ctx.restore();
  }
};

function dotPattern() {
  const c = document.createElement('canvas');
  c.width = 2; c.height = 2;
  const g = c.getContext('2d');
  g.fillStyle = '#000';
  g.fillRect(0, 0, 1, 1);
  g.fillRect(1, 1, 1, 1);
  g.fillStyle = '#555';
  g.fillRect(1, 0, 1, 1);
  return g.createPattern(c, 'repeat');
}

new Chart(document.getElementById('ozone'), {
  type: 'bar',
  data: {
    datasets: [
      {
        data: ozoneSpring.map(([m, lo, hi]) => ({ x: toAxis(m), y: [lo, hi] })),
        backgroundColor: '#000', barThickness: 2.5, borderWidth: 0, grouped: false
      },
      {
        data: ozoneSparse.map(([m, lo, hi]) => ({ x: toAxis(m), y: [lo, hi] })),
        backgroundColor: dotPattern(), barThickness: 2, borderWidth: 0, grouped: false
      },
      {
        type: 'line', showLine: false,
        data: ozoneStray.map(([m, v]) => ({ x: toAxis(m), y: v })),
        pointRadius: 1.2, pointBackgroundColor: '#000', pointBorderWidth: 0
      }
    ]
  },
  options: {
    responsive: false, animation: false, events: [],
    layout: { padding: { left: 0, right: 1, top: 0, bottom: 0 } },
    plugins: {
      legend: { display: false }, tooltip: { enabled: false },
      axisBreak: { spans: [[-6, 11, 'top'], [-11, 8, 'bottom']] }
    },
    scales: {
      x: dateAxis('top', true, 21, 4),
      x2: dateAxis('bottom', false, 5, 0),
      y: valueAxis(0, 60, 10, 'Ozone (ppb)', 13.5, 14, 7)
    }
  },
  plugins: [framePlugin, breakPlugin]
});

new Chart(document.getElementById('co2'), {
  type: 'line',
  data: {
    datasets: [
      {
        data: co2Spring.map(([m, v]) => ({ x: toAxis(m), y: v })),
        borderColor: '#000', borderWidth: 1.2, pointRadius: 2.7, pointBackgroundColor: '#000', pointBorderWidth: 0
      },
      {
        data: co2Autumn.map(([m, v]) => ({ x: toAxis(m), y: v })),
        borderColor: '#000', borderWidth: 1.2, pointRadius: 2.7, pointBackgroundColor: '#000', pointBorderWidth: 0
      },
      {
        data: co2TrendSpring.map(([m, v]) => ({ x: toAxis(m), y: v })),
        borderColor: '#333', borderWidth: 1, pointRadius: 0, tension: 0.3
      },
      {
        data: co2TrendAutumn.map(([m, v]) => ({ x: toAxis(m), y: v })),
        borderColor: '#333', borderWidth: 1, pointRadius: 0, tension: 0.2
      }
    ]
  },
  options: {
    responsive: false, animation: false, events: [],
    layout: { padding: { left: 0, right: 1, top: 0, bottom: 0 } },
    plugins: {
      legend: { display: false }, tooltip: { enabled: false },
      axisBreak: { spans: [[-10, 2, 'top'], [-9, 10, 'bottom']] }
    },
    scales: {
      x: dateAxis('bottom', true, 25, 4),
      x2: dateAxis('top', false, 11, 0),
      y: valueAxis(380, 400, 5, 'CO₂ (ppm)', 14, 5, 10)
    }
  },
  plugins: [framePlugin, breakPlugin]
});

// spaced lettering for the BrO y axis and x title; x tick labels are drawn after datasets, unspaced
const spacingPlugin = {
  id: 'spacing',
  beforeDraw(chart) { chart.ctx.letterSpacing = '1.3px'; },
  beforeDatasetsDraw(chart) { chart.ctx.letterSpacing = '0px'; }
};

const errorBarPlugin = {
  id: 'errorBars',
  afterDatasetsDraw(chart) {
    const { ctx, scales: { x, y } } = chart;
    ctx.save();
    ctx.lineWidth = 1;
    broSeries.slice().reverse().forEach(s => {
      ctx.strokeStyle = s.color;
      s.pts.filter(p => p[2]).forEach(([d, v, e]) => {
        const px = Math.round(x.getPixelForValue(d)) + 0.5;
        const p0 = y.getPixelForValue(v - e), p1 = y.getPixelForValue(v + e);
        ctx.beginPath();
        ctx.moveTo(px, p0); ctx.lineTo(px, p1);
        ctx.moveTo(px - 4, p0); ctx.lineTo(px + 4, p0);
        ctx.moveTo(px - 4, p1); ctx.lineTo(px + 4, p1);
        ctx.stroke();
      });
    });
    ctx.restore();
  }
};

const insideLegend = {
  id: 'insideLegend',
  afterDraw(chart) {
    const { ctx, chartArea: a } = chart;
    ctx.save();
    ctx.letterSpacing = '0px';
    ctx.font = `11px ${sans}`;
    ctx.textBaseline = 'middle';
    broSeries.forEach((s, i) => {
      const y = a.top + 11 + i * 12.6;
      ctx.fillStyle = s.color;
      ctx.beginPath();
      ctx.arc(a.left + 9, y, 2, 0, Math.PI * 2);
      ctx.fill();
      ctx.fillStyle = '#333';
      ctx.fillText(s.label, a.left + 27, y);
    });
    ctx.restore();
  }
};

const broTicks = [];
broMonthStarts.forEach((s, i) => {
  const next = i + 1 < broMonthStarts.length ? broMonthStarts[i + 1] : 131;
  for (let d = s; d < next - 2; d += 5) broTicks.push(d);
});

new Chart(document.getElementById('bro'), {
  type: 'scatter',
  data: {
    datasets: broSeries.map(s => ({
      label: s.label,
      data: s.pts.map(([d, v]) => ({ x: d, y: v })),
      pointRadius: 1.8, pointBackgroundColor: s.color, pointBorderWidth: 0
    }))
  },
  options: {
    responsive: false, animation: false, events: [],
    layout: { padding: { left: 0, right: 4, top: 11, bottom: 0 } },
    plugins: { legend: { display: false }, tooltip: { enabled: false } },
    scales: {
      x: {
        type: 'linear', min: 0, max: 130.6,
        afterBuildTicks: s => { s.ticks = broTicks.map(v => ({ value: v })); },
        afterFit: s => { s.height = 58; },
        grid: { drawOnChartArea: false, color: axisColor, tickLength: 4 },
        border: { color: axisColor },
        ticks: {
          z: 1, autoSkip: false, maxRotation: 0, padding: 11, color: textColor,
          font: { family: sans, size: 12 },
          callback: v => { const i = broMonthStarts.indexOf(v); return i < 0 ? '' : broMonthLabels[i]; }
        },
        title: { display: true, text: 'Date (AKST)', color: '#333', font: { family: sans, size: 10 }, padding: { top: 0, bottom: 2 } }
      },
      y: {
        min: -1, max: 5,
        afterFit: s => { s.width = 69; },
        grid: { drawOnChartArea: false, color: axisColor, tickLength: 3 },
        border: { color: axisColor },
        ticks: {
          stepSize: 1, padding: 6, color: '#333', font: { family: sans, size: 8.5 },
          callback: v => (v === 0 ? '0' : v + 'e+14')
        },
        title: { display: true, text: 'BrO dSCD (molec./cm²)', color: '#333', font: { family: sans, size: 9.5 }, padding: { top: 7, bottom: 0 } }
      }
    }
  },
  plugins: [spacingPlugin, framePlugin, errorBarPlugin, insideLegend]
});
</script>
</body>
</html>
